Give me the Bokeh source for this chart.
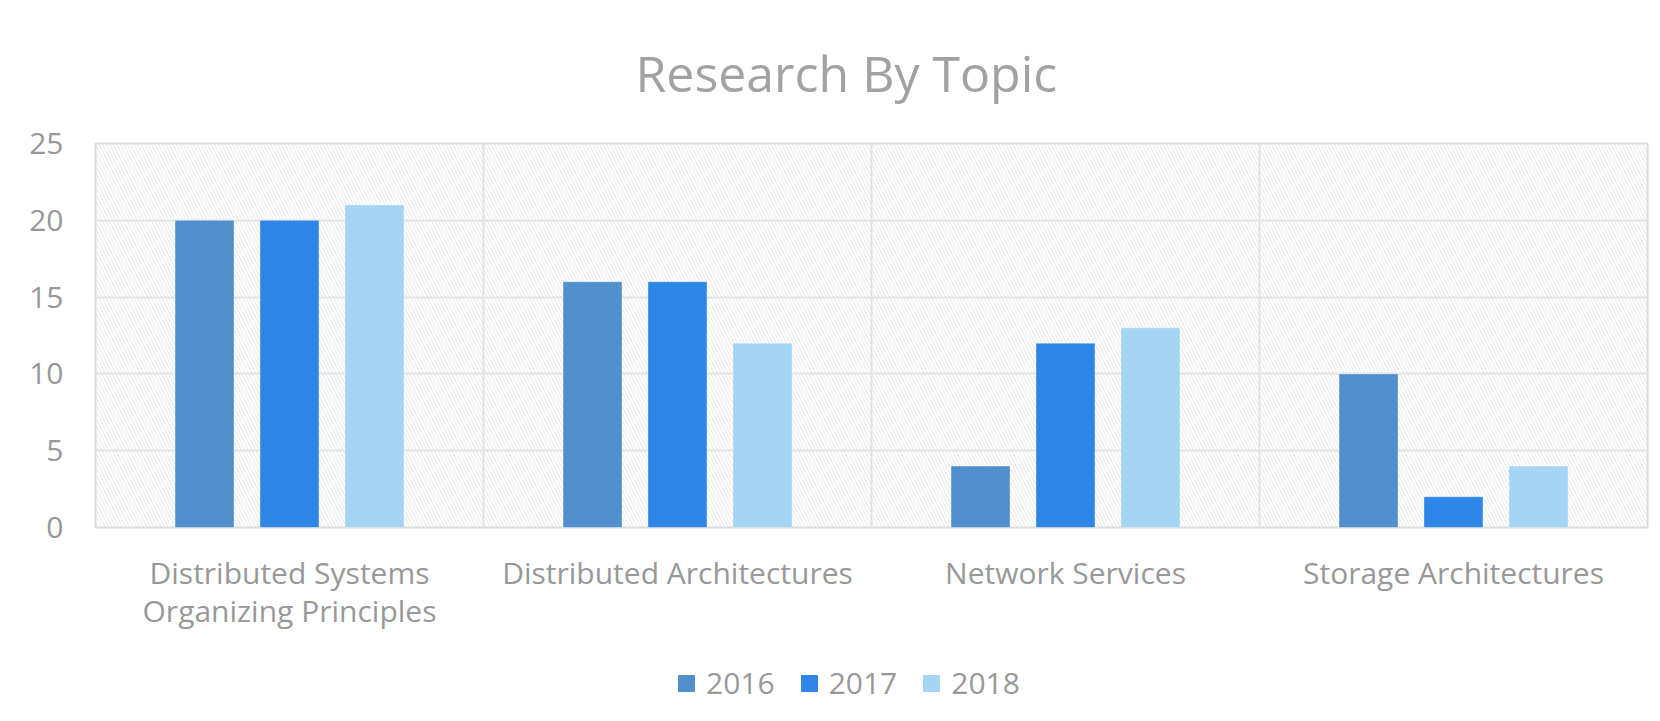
from bokeh.plotting import figure
from bokeh.layouts import column
from bokeh.models import (ColumnDataSource, FactorRange, Range1d, BoxAnnotation, Span,
                          Legend, LegendItem, SingleIntervalTicker)
from bokeh.transform import dodge
from bokeh.embed import file_html
from bokeh.resources import INLINE

categories = ["Distributed Systems\nOrganizing Principles", "Distributed Architectures",
              "Network Services", "Storage Architectures"]
years = ["2016", "2017", "2018"]
y2016 = [20, 16, 4, 10]
y2017 = [20, 16, 12, 2]
y2018 = [21, 12, 13, 4]
colors = ["#5190cd", "#2e86e6", "#a4d5f3"]

FONT = "Open Sans"
GREY = "#989898"

src = ColumnDataSource(dict(cat=categories, y2016=y2016, y2017=y2017, y2018=y2018))

p = figure(x_range=FactorRange(*categories, range_padding=0), y_range=Range1d(0, 25),
           width=1652, height=640, output_backend="svg", toolbar_location=None,
           min_border_left=95, min_border_right=5, min_border_top=143, min_border_bottom=113)

p.background_fill_color = "white"
p.border_fill_color = "white"
p.outline_line_color = "#dcdcdc"
p.outline_line_width = 2

# hatched background
p.add_layout(BoxAnnotation(fill_alpha=0, line_alpha=0, hatch_pattern="left_diagonal_line",
                           hatch_color="#e6e6e6", hatch_scale=7, hatch_weight=1, level="image"))

# category separators
for i in range(1, len(categories)):
    p.add_layout(Span(location=i, dimension="height", line_color="#e3e3e3", line_width=2,
                      level="underlay"))

p.xgrid.visible = False
p.ygrid.grid_line_color = "#e3e3e3"
p.ygrid.grid_line_width = 2
p.yaxis.ticker = SingleIntervalTicker(interval=5)

offsets = [-0.219, 0.0, 0.219]
fields = ["y2016", "y2017", "y2018"]
for yr, f, off, c in zip(years, fields, offsets, colors):
    p.vbar(x=dodge("cat", off, range=p.x_range), top=f, width=0.152, source=src,
           fill_color=c, line_color="white", line_alpha=0.35, line_width=1)

for ax in (p.xaxis, p.yaxis):
    ax.axis_line_color = None
    ax.major_tick_line_color = None
    ax.minor_tick_line_color = None
    ax.major_label_text_font = FONT
    ax.major_label_text_font_size = "30px"
    ax.major_label_text_color = GREY

p.yaxis.major_label_standoff = 26
p.xaxis.major_label_standoff = 18
p.xaxis.major_label_orientation = "horizontal"
p.xaxis.major_label_text_line_height = 0.95

p.title.text = "Research By Topic"
p.title.text_font = FONT
p.title.text_font_size = "50px"
p.title.text_font_style = "normal"
p.title.text_color = "#a2a2a2"
p.title.align = "left"
p.title.offset = 540
p.title.standoff = 73

# legend strip below the chart (series drawn out of view; only their legend keys show)
lf = figure(width=1652, height=73, output_backend="svg", toolbar_location=None,
            x_range=Range1d(0, 1), y_range=Range1d(100, 101),
            x_axis_location=None, y_axis_location=None,
            min_border_left=0, min_border_right=0, min_border_top=0, min_border_bottom=0)
lf.grid.visible = False
lf.outline_line_color = None
lf.background_fill_color = "white"
lf.border_fill_color = "white"
items = []
for yr, f, c in zip(years, fields, colors):
    r = lf.vbar(x=0.5, top=f, width=0.1, source=src, fill_color=c, line_color=c)
    items.append(LegendItem(label=yr, renderers=[r]))

legend = Legend(items=items, orientation="horizontal", location=(581, 10),
                label_text_font=FONT, label_text_font_size="30px", label_text_color=GREY,
                glyph_width=20, glyph_height=20, label_standoff=10, spacing=24,
                border_line_color=None, background_fill_alpha=0, padding=0, margin=0)
lf.add_layout(legend)

layout = column(p, lf, spacing=0)
open("out.html", "w").write(file_html(layout, INLINE))
